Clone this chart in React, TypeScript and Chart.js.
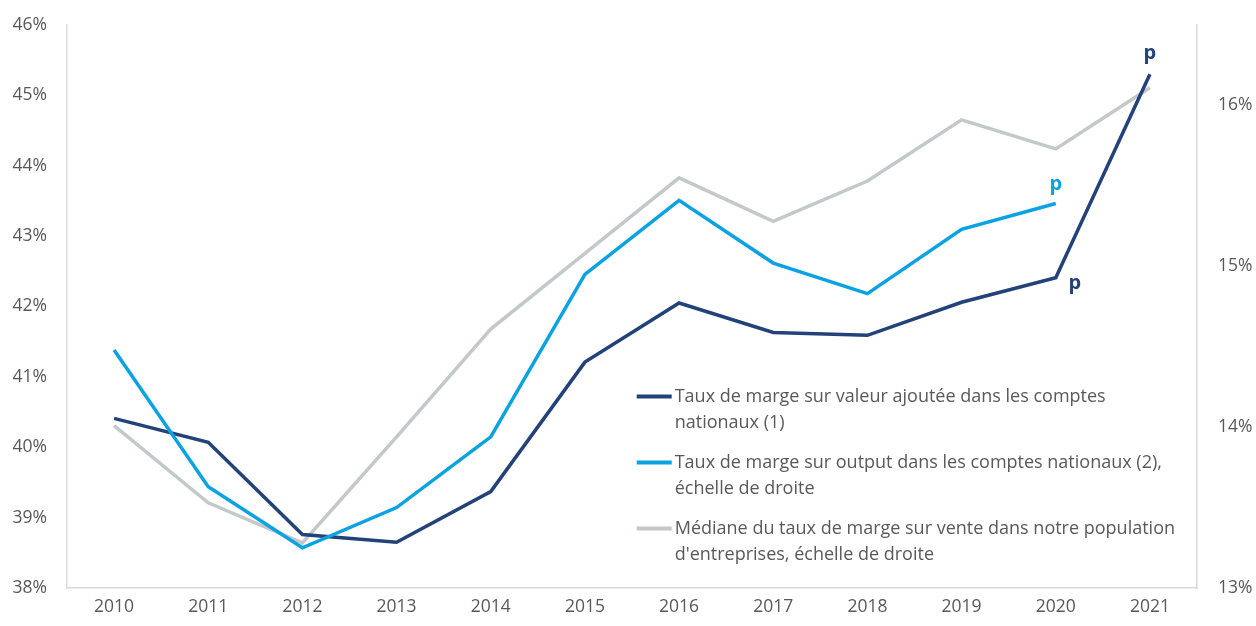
import React, { useEffect, useRef } from "react";
import { Chart, registerables } from "chart.js";

Chart.register(...registerables);

const years = ["2010", "2011", "2012", "2013", "2014", "2015", "2016", "2017", "2018", "2019", "2020", "2021"];
const margeValeurAjoutee = [40.41, 40.07, 38.76, 38.65, 39.37, 41.21, 42.05, 41.63, 41.59, 42.06, 42.41, 45.3];
const margeOutput = [14.48, 13.63, 13.25, 13.5, 13.94, 14.95, 15.41, 15.02, 14.83, 15.23, 15.39, null];
const medianeVente = [14.01, 13.53, 13.28, 13.94, 14.61, 15.08, 15.55, 15.28, 15.53, 15.91, 15.73, 16.11];

const leftTicks = [38, 39, 40, 41, 42, 43, 44, 45, 46];
const rightTicks = [13, 14, 15, 16];

const legendItems = [
  { color: "#24427a", lines: ["Taux de marge sur valeur ajoutée dans les comptes", "nationaux (1)"] },
  { color: "#0aa2e2", lines: ["Taux de marge sur output dans les comptes nationaux (2),", "échelle de droite"] },
  { color: "#c3c8c8", lines: ["Médiane du taux de marge sur vente dans notre population", "d'entreprises, échelle de droite"] },
];

// provisional markers: [datasetIndex, pointIndex, dx, dy]
const provisional = [
  [0, 11, 0, -15],
  [0, 10, 19, 11],
  [1, 10, 0, -14],
];

const FONT = "'Open Sans', 'DejaVu Sans', sans-serif";
const TEXT = "#595959";
const AXIS = "#d9d9d9";

const overlayPlugin = {
  id: "overlay",
  afterDatasetsDraw(chart: any) {
    const ctx = chart.ctx;
    ctx.save();
    ctx.font = `bold 20px ${FONT}`;
    ctx.textAlign = "center";
    ctx.textBaseline = "alphabetic";
    provisional.forEach(([ds, i, dx, dy]) => {
      const el = chart.getDatasetMeta(ds).data[i];
      ctx.fillStyle = legendItems[ds].color;
      ctx.fillText("p", el.x + dx, el.y + dy);
    });
    const lx = chart.scales.x.getPixelForValue(5.55);
    const baseY = chart.scales.y.getPixelForValue(40.72);
    ctx.font = `18px ${FONT}`;
    ctx.textAlign = "left";
    ctx.textBaseline = "middle";
    legendItems.forEach((item, k) => {
      const y0 = baseY + k * 66;
      ctx.strokeStyle = item.color;
      ctx.lineWidth = 4;
      ctx.beginPath();
      ctx.moveTo(lx, y0);
      ctx.lineTo(lx + 35, y0);
      ctx.stroke();
      ctx.fillStyle = TEXT;
      item.lines.forEach((t, j) => ctx.fillText(t, lx + 38, y0 + j * 26));
    });
    ctx.restore();
  },
};

const fixVertical = (w: number) => (s: any) => {
  s.width = w;
  s.paddingTop = 0;
  s.paddingBottom = 0;
};

export default function App() {
  const ref = useRef<HTMLCanvasElement | null>(null);
  useEffect(() => {
    if (!ref.current) return;
    const chart = new Chart(ref.current, {
      type: "line",
      data: {
        labels: years,
        datasets: [
          {
            label: legendItems[0].lines.join(" "),
            data: margeValeurAjoutee,
            yAxisID: "y",
            borderColor: legendItems[0].color,
            borderWidth: 3.5,
            pointRadius: 0,
            tension: 0,
            order: 1,
          },
          {
            label: legendItems[1].lines.join(" "),
            data: margeOutput,
            yAxisID: "y1",
            borderColor: legendItems[1].color,
            borderWidth: 3.5,
            pointRadius: 0,
            tension: 0,
            order: 0,
          },
          {
            label: legendItems[2].lines.join(" "),
            data: medianeVente,
            yAxisID: "y1",
            borderColor: legendItems[2].color,
            borderWidth: 3.5,
            pointRadius: 0,
            tension: 0,
            order: 2,
          },
        ],
      },
      options: {
        animation: false,
        responsive: false,
        maintainAspectRatio: false,
        layout: { padding: { top: 25, left: 0, right: 0, bottom: 0 } },
        plugins: { legend: { display: false }, tooltip: { enabled: false } },
        scales: {
          x: {
            offset: true,
            grid: { display: false, drawTicks: false },
            border: { display: true, color: AXIS, width: 1.5 },
            ticks: { color: TEXT, font: { family: FONT, size: 17.5 }, padding: 9, maxRotation: 0 },
            afterFit: (s: any) => { s.height = 38; s.paddingLeft = 0; s.paddingRight = 0; },
          },
          y: {
            position: "left",
            min: 38,
            max: 46,
            afterBuildTicks: (s: any) => { s.ticks = leftTicks.map((v) => ({ value: v })); },
            grid: { display: false, drawTicks: false },
            border: { display: true, color: AXIS, width: 1.5 },
            ticks: { color: TEXT, font: { family: FONT, size: 17.5 }, padding: 20, callback: (v: any) => `${v}%` },
            afterFit: fixVertical(67),
          },
          y1: {
            position: "right",
            min: 13,
            max: 16.5,
            afterBuildTicks: (s: any) => { s.ticks = rightTicks.map((v) => ({ value: v })); },
            grid: { display: false, drawTicks: false },
            border: { display: true, color: AXIS, width: 1.5 },
            ticks: { color: TEXT, font: { family: FONT, size: 17.5 }, padding: 21, callback: (v: any) => `${v}%` },
            afterFit: fixVertical(59),
          },
        },
      },
      plugins: [overlayPlugin],
    });
    return () => chart.destroy();
  }, []);
  return (
    <div style={{ position: "fixed", left: 0, top: 0, width: 1256, height: 626, background: "#fff" }}>
      <canvas ref={ref} width={1256} height={626} style={{ width: 1256, height: 626, display: "block" }} />
    </div>
  );
}
